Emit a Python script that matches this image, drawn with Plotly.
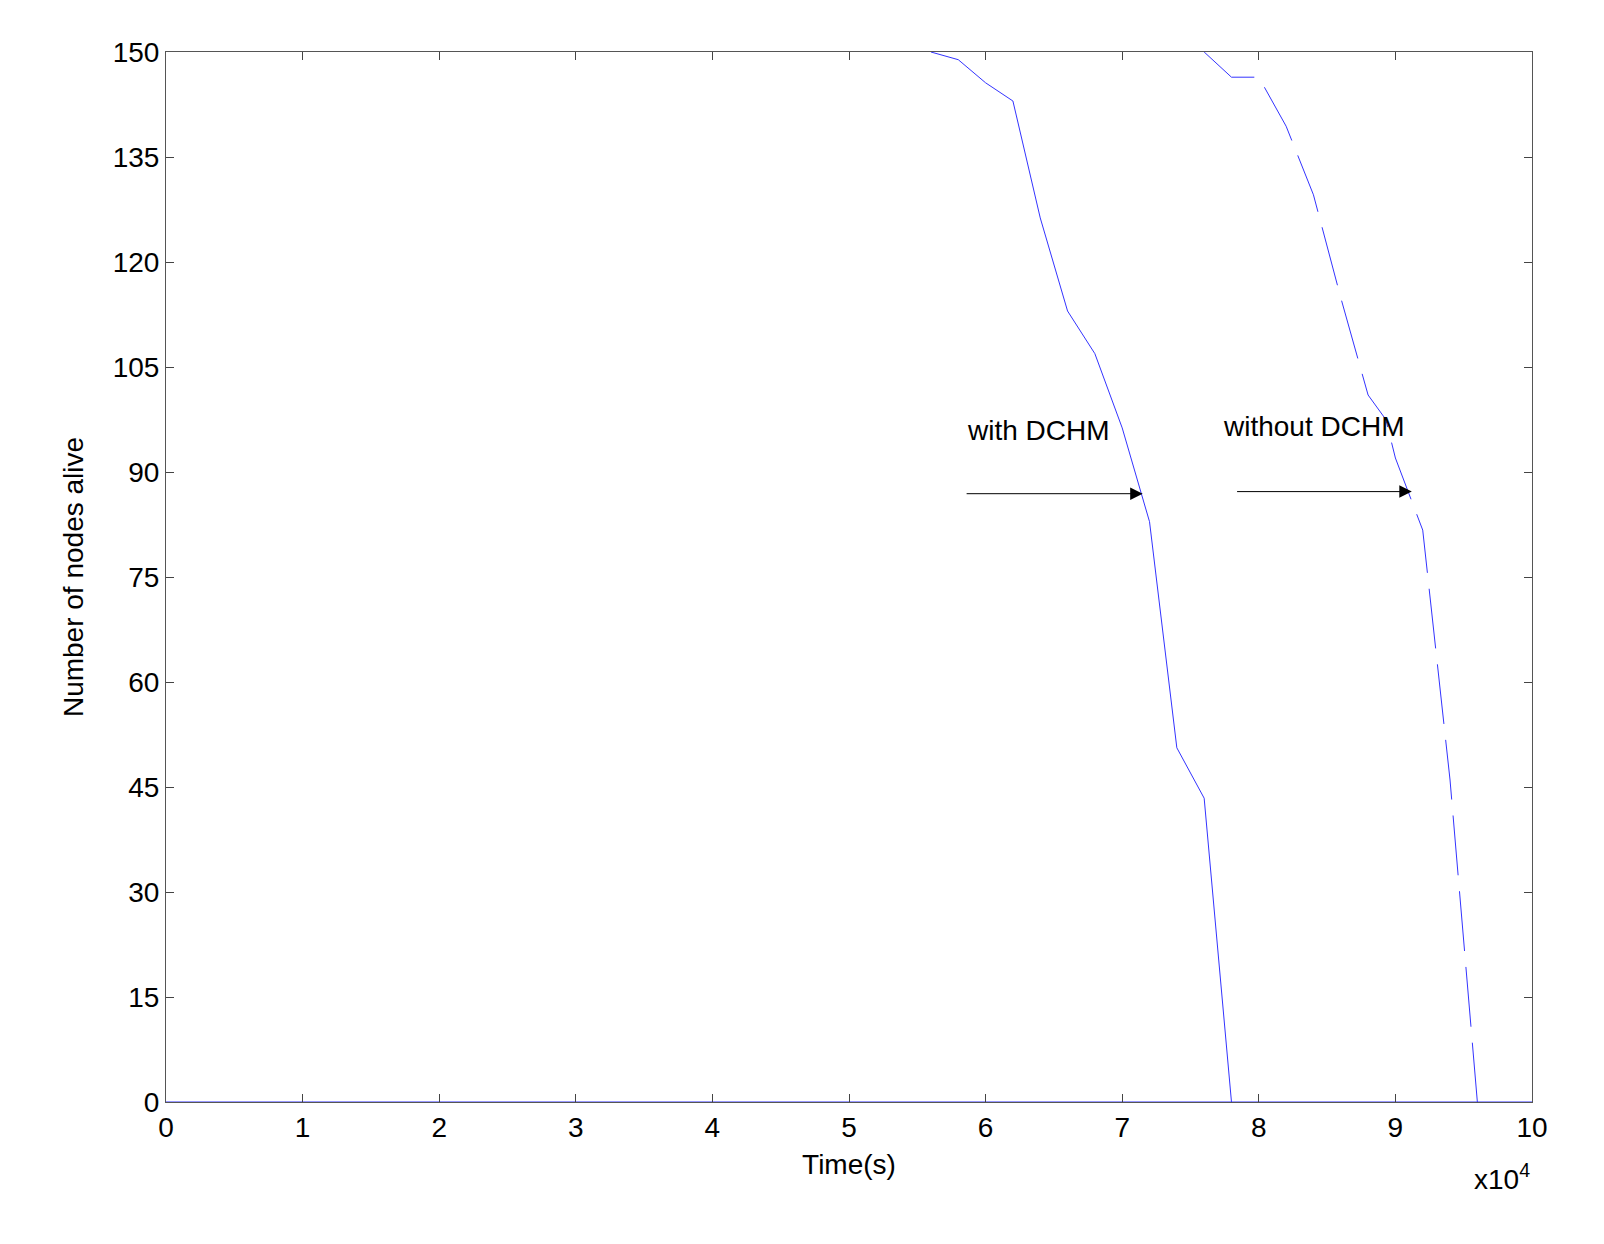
import plotly.graph_objects as go

with_x = [5.6, 5.8, 6.0, 6.2, 6.4, 6.6, 6.8, 7.0, 7.2, 7.4, 7.6, 7.8]
with_y = [150, 148.9, 145.6, 143, 126.3, 113, 106.9, 96.3, 82.9, 50.6, 43.4, 0]
without_x = [7.6, 7.8, 8.0, 8.2, 8.4, 8.6, 8.8, 8.93, 9.0, 9.2, 9.4, 9.6]
without_y = [150, 146.4, 146.4, 139.4, 129.6, 114.9, 101, 97.5, 92, 81.7, 46, 0]
x_ticks = list(range(0, 11))
y_ticks = list(range(0, 151, 15))

fig = go.Figure()
fig.add_trace(go.Scatter(x=with_x, y=with_y, mode="lines",
                         line=dict(color="#3333ff", width=1)))
fig.add_trace(go.Scatter(x=without_x, y=without_y, mode="lines",
                         line=dict(color="#3333ff", width=1, dash="60px,16px")))
fig.add_trace(go.Scatter(x=[0, 10], y=[0, 0], mode="lines",
                         line=dict(color="#3333ff", width=1)))

font = dict(family="Liberation Sans, Arial", size=28, color="black")
axis = dict(showgrid=False, zeroline=False, ticks="inside", ticklen=8,
            mirror="allticks", showline=True, linecolor="#555", linewidth=1,
            tickfont=font)
fig.update_layout(
    width=1604, height=1244, plot_bgcolor="white", paper_bgcolor="white",
    showlegend=False, margin=dict(l=158, r=80, t=44, b=150),
    xaxis=dict(axis, range=[0, 10], tickvals=x_ticks,
               title=dict(text="Time(s)", font=font, standoff=12)),
    yaxis=dict(axis, range=[0, 150], tickvals=y_ticks,
               title=dict(text="Number of nodes alive", font=font, standoff=20)),
)
fig.add_annotation(x=5.85, y=96, text="with DCHM", showarrow=False, xanchor="left", font=font)
fig.add_annotation(x=7.72, y=96.5, text="without DCHM", showarrow=False, xanchor="left", font=font)
for x0, x1, yy in [(5.85, 7.15, 86.9), (7.83, 9.12, 87.2)]:
    fig.add_annotation(x=x1, y=yy, ax=x0, ay=yy, axref="x", ayref="y", text="",
                       showarrow=True, arrowhead=2, arrowsize=2.5, arrowwidth=1,
                       arrowcolor="black")
fig.add_annotation(x=1.0, y=-0.09, xref="paper", yref="paper", showarrow=False,
                   text="x10<sup>4</sup>", font=font, xanchor="right")
fig.write_html("out.html")
